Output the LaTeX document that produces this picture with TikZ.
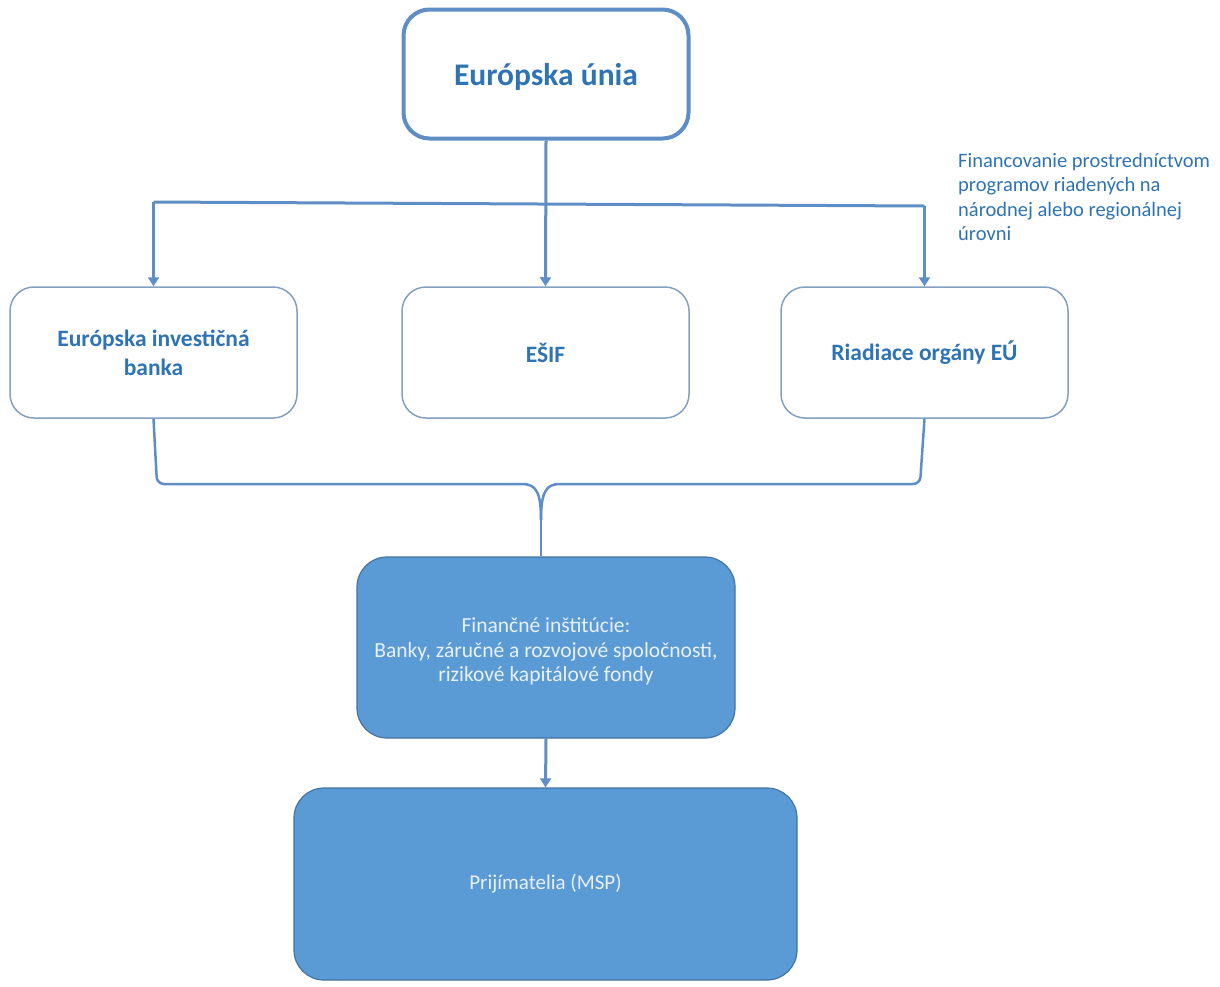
\documentclass[tikz,border=0pt]{standalone}
\usepackage{fontspec}
\setmainfont{Carlito}
\usetikzlibrary{arrows.meta}
\definecolor{lineblue}{RGB}{94,142,197}
\definecolor{txtblue}{RGB}{46,116,181}
\definecolor{boxedge}{RGB}{130,160,195}
\definecolor{fillblue}{RGB}{91,155,213}
\definecolor{filledge}{RGB}{70,115,160}
\definecolor{lighttxt}{RGB}{232,240,250}
\tikzset{
  topbox/.style={draw=lineblue, line width=4pt, rounded corners=26pt, fill=white,
    minimum width=285pt, minimum height=129pt, inner sep=0pt, text=txtblue,
    font=\fontsize{31.5}{36}\selectfont\bfseries},
  midbox/.style={draw=boxedge, line width=1.5pt, rounded corners=24pt, fill=white,
    minimum width=287pt, minimum height=131pt, inner sep=0pt, text=txtblue,
    font=\fontsize{23.5}{29}\selectfont\bfseries, align=center},
  bluebox/.style={draw=filledge, line width=1.2pt, rounded corners=30pt, fill=fillblue,
    inner sep=0pt, text=lighttxt, align=center},
  conn/.style={draw=lineblue, line width=3pt},
  arr/.style={conn, -{Triangle[length=9pt,width=11pt]}},
}
\begin{document}
\begin{tikzpicture}[x=1pt,y=-1pt]
\useasboundingbox[fill=white] (0,0) rectangle (1220,986);
\node[topbox] (eu) at (546,74) {};
\node[text=txtblue, font=\fontsize{31.5}{36}\selectfont\bfseries, inner sep=0pt] (eut) at (546,77) {Európska únia};
\node[midbox] (ebi) at (153.5,352.5) {Európska investičná\\banka};
\node[midbox] (esif) at (545.5,352.5) {EŠIF};
\node[midbox] (ro) at (924.5,352.5) {Riadiace orgány EÚ};
\node[text=txtblue, font=\fontsize{20.5}{24.5}\selectfont, align=left, anchor=north west, inner sep=0pt] (note) at (958,153)
  {Financovanie prostredníctvom\\programov riadených na\\národnej alebo regionálnej\\úrovni};
\node[bluebox, minimum width=378pt, minimum height=181pt] (fin) at (546,647.5) {};
\node[text=lighttxt, align=center, inner sep=0pt, font=\fontsize{21.5}{24.5}\selectfont] (fint) at (546,651.5)
  {Finančné inštitúcie:\\Banky, záručné a rozvojové spoločnosti,\\rizikové kapitálové fondy};
\node[bluebox, minimum width=503pt, minimum height=192pt, font=\fontsize{21}{24}\selectfont] (msp) at (545.5,884)
  {Prijímatelia (MSP)};
% top distribution
\coordinate (hl) at (153.5,202);
\coordinate (hr) at (924.5,206);
\draw[conn] (hl) -- (hr);
\draw[arr] (eu.south) -- (esif.north);
\draw[arr] (hl) -- (ebi.north);
\draw[arr] (hr) -- (ro.north);
% brace
\coordinate (bl) at (157,484);
\coordinate (br) at (920,484);
\coordinate (tip) at (541,520);
\draw[conn, line width=2.5pt, rounded corners=7pt] (ebi.south) -- (bl) -- (522,484);
\draw[conn, line width=2.5pt] (522,484) .. controls (536,484) and (541,492) .. (tip);
\draw[conn, line width=2.5pt, rounded corners=7pt] (ro.south) -- (br) -- (560,484);
\draw[conn, line width=2.5pt] (560,484) .. controls (546,484) and (541,492) .. (tip);
\draw[conn, line width=2.5pt] (tip) -- (tip |- fin.north);
\draw[arr] (fin.south) -- (msp.north);
\end{tikzpicture}
\end{document}
